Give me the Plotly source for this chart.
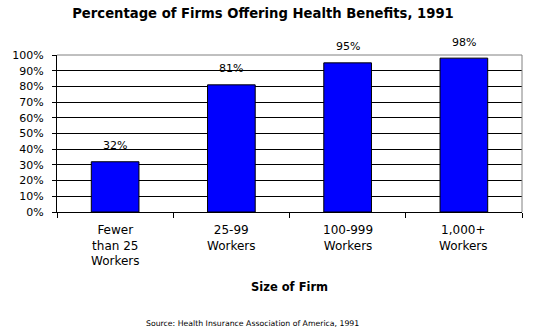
import plotly.graph_objects as go

# Share of firms offering health benefits by firm size, 1991
categories = ["Fewer<br>than 25<br>Workers", "25-99<br>Workers", "100-999<br>Workers", "1,000+<br>Workers"]
pct_offering = [32, 81, 95, 98]
y_ticks = list(range(0, 101, 10))
y_tick_labels = [f"{v}%" for v in y_ticks]

FONT = "DejaVu Sans"
W, H = 549, 332
PLOT_L, PLOT_R, PLOT_T, PLOT_B = 57, 522, 55, 212
x_pos = list(range(len(categories)))

fig = go.Figure()
fig.add_trace(go.Bar(
    x=x_pos,
    y=pct_offering,
    width=0.41,
    marker=dict(color="#0000FF", line=dict(color="black", width=1)),
    hoverinfo="skip",
))

# value labels above bars
for xi, v in zip(x_pos, pct_offering):
    fig.add_annotation(x=xi, y=v, xref="x", yref="y", text=f"{v}%",
                       showarrow=False, yanchor="middle", yshift=16,
                       font=dict(family=FONT, size=11, color="black"))

# category labels under the axis
for xi, c in zip(x_pos, categories):
    fig.add_annotation(x=xi, y=0, xref="x", yref="paper", text=c,
                       showarrow=False, yanchor="top", yshift=-9,
                       font=dict(family=FONT, size=12, color="black"))

# axis title
fig.add_annotation(x=0.5, y=0, xref="paper", yref="paper", showarrow=False,
                   text="<b>Size of Firm</b>", xanchor="center", yanchor="middle",
                   yshift=-(287 - PLOT_B),
                   font=dict(family=FONT, size=11.5, color="black"))

# source note
fig.add_annotation(x=(252 - PLOT_L) / (PLOT_R - PLOT_L), y=0, xref="paper", yref="paper",
                   showarrow=False,
                   text="Source: Health Insurance Association of America, 1991",
                   xanchor="center", yanchor="middle", yshift=-(323 - PLOT_B),
                   font=dict(family=FONT, size=7.75, color="black"))

# top and right frame lines in grey
fig.add_shape(type="line", xref="paper", yref="paper", x0=0, x1=1, y0=1, y1=1,
              line=dict(color="#808080", width=1))
fig.add_shape(type="line", xref="paper", yref="paper", x0=1, x1=1, y0=0, y1=1,
              line=dict(color="#808080", width=1))

fig.update_layout(
    width=W, height=H,
    margin=dict(l=PLOT_L, r=W - PLOT_R, t=PLOT_T, b=H - PLOT_B),
    paper_bgcolor="white", plot_bgcolor="white",
    showlegend=False,
    title=dict(text="<b>Percentage of Firms Offering Health Benefits, 1991</b>",
               xref="container", yref="container",
               x=263 / W, xanchor="center", y=1 - 13 / H, yanchor="middle",
               font=dict(family=FONT, size=13.2, color="black")),
    xaxis=dict(
        range=[-0.5, 3.5],
        tickvals=[-0.5, 0.5, 1.5, 2.5, 3.5],
        ticktext=["", "", "", "", ""],
        ticks="outside", ticklen=5, tickcolor="black",
        showgrid=False, showline=True, linecolor="black", linewidth=1,
        zeroline=False, fixedrange=True,
    ),
    yaxis=dict(
        range=[0, 100],
        tickvals=y_ticks, ticktext=y_tick_labels,
        ticks="outside", ticklen=4, tickcolor="black",
        ticklabelstandoff=6,
        showgrid=True, gridcolor="black", gridwidth=1,
        showline=True, linecolor="black", linewidth=1,
        zeroline=False,
        tickfont=dict(family=FONT, size=11, color="black"),
    ),
)

fig.write_html("out.html")
